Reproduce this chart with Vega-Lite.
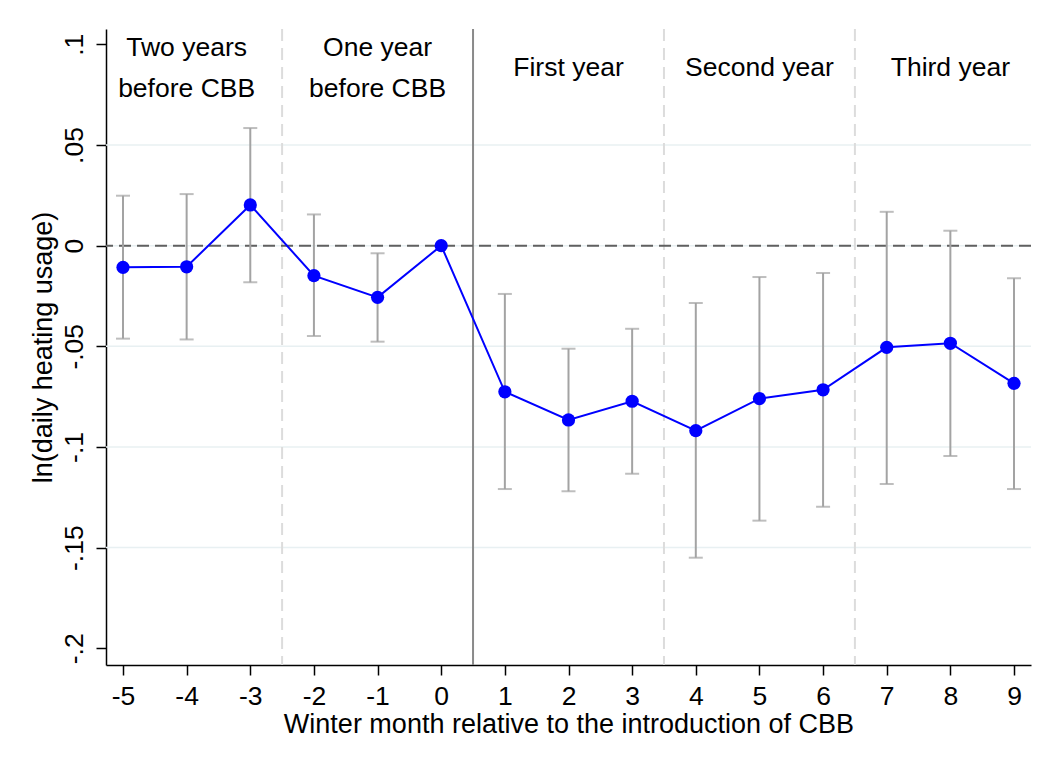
{
  "$schema": "https://vega.github.io/schema/vega-lite/v6.json",
  "width": 925,
  "height": 636,
  "autosize": {"type": "none"},
  "padding": {"left": 106, "top": 29, "right": 24, "bottom": 102},
  "background": "white",
  "config": {
    "view": {"stroke": null},
    "font": "Liberation Sans",
    "axis": {
      "labelFont": "Liberation Sans",
      "titleFont": "Liberation Sans",
      "labelFontSize": 26.5,
      "titleFontSize": 27,
      "titleFontWeight": "normal",
      "labelColor": "black",
      "titleColor": "black",
      "domainColor": "black",
      "domainWidth": 1.5,
      "tickColor": "black",
      "tickWidth": 1.5,
      "tickSize": 10,
      "grid": false
    }
  },
  "datasets": {
    "est": [
      {"month": -5, "coef": -0.0108, "lo": -0.0462, "hi": 0.0248},
      {"month": -4, "coef": -0.0105, "lo": -0.0466, "hi": 0.0256},
      {"month": -3, "coef": 0.0202, "lo": -0.0182, "hi": 0.0584},
      {"month": -2, "coef": -0.0149, "lo": -0.0449, "hi": 0.0155},
      {"month": -1, "coef": -0.0257, "lo": -0.0477, "hi": -0.0038},
      {"month": 0, "coef": 0.0, "lo": null, "hi": null},
      {"month": 1, "coef": -0.0726, "lo": -0.1209, "hi": -0.024},
      {"month": 2, "coef": -0.0866, "lo": -0.122, "hi": -0.0512},
      {"month": 3, "coef": -0.0773, "lo": -0.1133, "hi": -0.0413},
      {"month": 4, "coef": -0.0919, "lo": -0.155, "hi": -0.0285},
      {"month": 5, "coef": -0.076, "lo": -0.1366, "hi": -0.0156},
      {"month": 6, "coef": -0.0716, "lo": -0.1297, "hi": -0.0136},
      {"month": 7, "coef": -0.0505, "lo": -0.1184, "hi": 0.0168},
      {"month": 8, "coef": -0.0485, "lo": -0.1045, "hi": 0.0074},
      {"month": 9, "coef": -0.0684, "lo": -0.1209, "hi": -0.0162}
    ],
    "grid": [{"y": 0.05}, {"y": 0}, {"y": -0.05}, {"y": -0.1}, {"y": -0.15}],
    "dashed": [{"x": -2.5}, {"x": 3.5}, {"x": 6.5}],
    "solid": [{"x": 0.5}],
    "zero": [{"y": 0}],
    "labels": [
      {"x": -4, "y": 0.0942, "label": "Two years"},
      {"x": -4, "y": 0.074, "label": "before CBB"},
      {"x": -1, "y": 0.0942, "label": "One year"},
      {"x": -1, "y": 0.074, "label": "before CBB"},
      {"x": 2, "y": 0.0842, "label": "First year"},
      {"x": 5, "y": 0.0842, "label": "Second year"},
      {"x": 8, "y": 0.0842, "label": "Third year"}
    ]
  },
  "layer": [
    {
      "data": {"name": "grid"},
      "mark": {"type": "rule", "color": "#e8f0f2", "strokeWidth": 1.5},
      "encoding": {
        "y": {"field": "y", "type": "quantitative",
          "scale": {"domain": [-0.2083, 0.1076], "nice": false, "zero": false},
          "title": "ln(daily heating usage)",
          "axis": {
            "values": [-0.2, -0.15, -0.1, -0.05, 0, 0.05, 0.1],
            "labelAngle": 270,
            "labelAlign": "center",
            "labelBaseline": "bottom",
            "labelPadding": 8,
            "labelExpr": "(datum.value < -0.00001 ? '-' : '') + replace(format(abs(datum.value), '.2~f'), '0.', '.')",
            "titlePadding": 4
          }
        }
      }
    },
    {
      "data": {"name": "dashed"},
      "mark": {"type": "rule", "color": "#dcdcdc", "strokeWidth": 2, "strokeDash": [12, 7]},
      "encoding": {"x": {"field": "x", "type": "quantitative"}}
    },
    {
      "data": {"name": "solid"},
      "mark": {"type": "rule", "color": "#8a8a8a", "strokeWidth": 2},
      "encoding": {"x": {"field": "x", "type": "quantitative"}}
    },
    {
      "data": {"name": "zero"},
      "mark": {"type": "rule", "color": "#606060", "strokeWidth": 2, "strokeDash": [12, 6]},
      "encoding": {"y": {"field": "y", "type": "quantitative", "title": "ln(daily heating usage)"}}
    },
    {
      "data": {"name": "est"},
      "transform": [{"filter": "datum.lo != null"}],
      "mark": {"type": "errorbar", "color": "#a3a3a3", "thickness": 2, "ticks": {"size": 14, "thickness": 2, "color": "#a3a3a3"}},
      "encoding": {
        "x": {"field": "month", "type": "quantitative"},
        "y": {"field": "lo", "type": "quantitative", "title": "ln(daily heating usage)"},
        "y2": {"field": "hi", "title": "ln(daily heating usage)"}
      }
    },
    {
      "data": {"name": "est"},
      "mark": {"type": "line", "color": "#0000ff", "strokeWidth": 2},
      "encoding": {
        "x": {"field": "month", "type": "quantitative",
          "scale": {"domain": [-5.267, 9.267], "nice": false, "zero": false},
          "title": "Winter month relative to the introduction of CBB",
          "axis": {
            "values": [-5, -4, -3, -2, -1, 0, 1, 2, 3, 4, 5, 6, 7, 8, 9],
            "labelExpr": "(datum.value < 0 ? '-' : '') + abs(datum.value)",
            "labelPadding": 8,
            "labelFlush": false,
            "labelOverlap": false,
            "titlePadding": 2
          }
        },
        "y": {"field": "coef", "type": "quantitative", "title": "ln(daily heating usage)"}
      }
    },
    {
      "data": {"name": "est"},
      "mark": {"type": "point", "filled": true, "color": "#0000ff", "opacity": 1, "size": 175},
      "encoding": {
        "x": {"field": "month", "type": "quantitative"},
        "y": {"field": "coef", "type": "quantitative", "title": "ln(daily heating usage)"}
      }
    },
    {
      "data": {"name": "labels"},
      "mark": {"type": "text", "fontSize": 26.5, "font": "Liberation Sans", "color": "black", "align": "center", "baseline": "alphabetic"},
      "encoding": {
        "x": {"field": "x", "type": "quantitative"},
        "y": {"field": "y", "type": "quantitative", "title": "ln(daily heating usage)"},
        "text": {"field": "label"}
      }
    }
  ]
}
